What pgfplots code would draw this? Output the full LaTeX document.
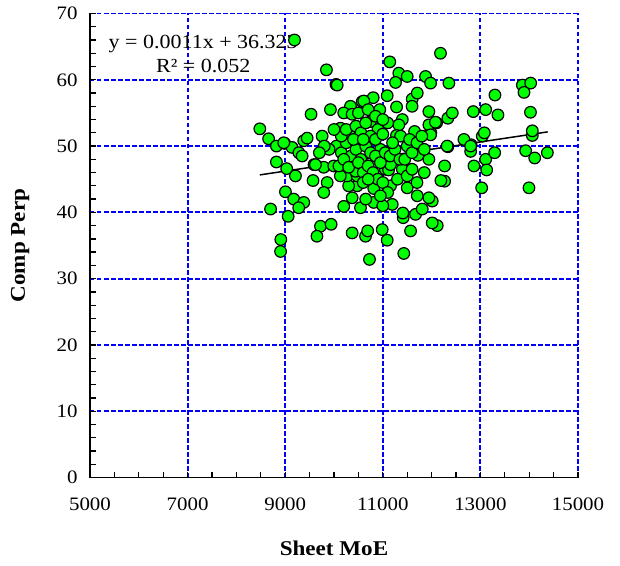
\documentclass[border=0pt]{standalone}
\usepackage{fontspec}
\setmainfont{Liberation Serif}[FakeStretch=1.1]
\usepackage{pgfplots}
\pgfplotsset{compat=1.18}

\definecolor{gridblue}{RGB}{0,0,255}
\definecolor{markgreen}{RGB}{0,255,0}

% Sheet MoE vs. Comp Perp measurements
\pgfplotstableread{
x y
8480 52.6
8660 51.1
8820 50.0
8990 50.4
9140 49.8
9280 49.0
9380 50.8
9450 51.2
9530 54.8
9190 66.0
9845 61.5
10040 59.3
9927 55.5
8820 47.6
9030 46.6
9210 45.5
9590 47.2
9790 46.8
9860 44.5
9790 43.0
9570 44.8
9005 43.1
9175 42.0
9380 41.5
9277 40.7
8700 40.5
9060 39.4
8910 35.9
8905 34.1
9723 37.9
9941 38.2
9650 36.4
10372 36.9
10646 36.4
10690 37.2
10727 32.9
10200 40.9
10543 40.7
10372 42.2
10815 41.5
10815 43.6
10474 44.0
10300 44.0
10269 45.5
10474 45.5
10130 45.5
10440 46.2
9995 47.0
9347 48.5
9620 47.2
9757 51.5
8970 50.5
10338 56.0
10200 55.0
10577 56.7
10132 52.7
10338 51.5
14026 55.1
14064 51.6
14064 52.3
13927 49.3
14113 48.2
14372 49.0
13995 43.7
13026 43.7
13108 48.0
13128 46.4
13292 49.0
12867 47.0
12800 49.2
12810 50.2
12662 51.0
13039 51.5
13080 52.0
12854 55.2
13108 55.5
13359 54.7
12333 49.9
12266 47.0
12266 44.7
12190 44.8
11985 52.0
11944 53.2
12102 53.5
12333 54.2
12424 55.0
11944 55.2
11651 52.2
11944 48.0
11720 48.6
12013 41.7
12115 38.0
12013 38.4
11569 37.2
11430 33.8
11090 35.8
10988 37.4
11671 39.7
11418 39.2
11410 39.9
11808 40.5
11944 42.2
11706 42.5
11500 43.7
11193 41.2
11000 41.0
11158 44.0
11050 46.5
11118 46.4
11400 46.5
11158 47.2
12182 64.0
11143 62.7
11328 61.0
11500 60.5
11261 59.6
11876 60.5
11979 59.5
12354 59.5
11603 57.1
11706 58.0
11600 56.0
11090 57.6
10803 57.3
10610 56.8
10938 55.5
11282 55.9
13298 57.7
13860 59.2
14030 59.5
13893 58.1
10065 59.2
10372 54.8
10748 53.7
11400 54.0
11328 53.2
11280 51.6
11364 51.5
10900 52.5
11979 51.7
12800 50.0
12318 50.0
10953 49.5
12079 53.6
10050 50.0
10150 49.0
10250 50.5
10350 48.5
10450 49.5
10550 48.0
10650 50.0
10750 49.0
10850 48.5
10950 47.5
11050 49.0
11150 48.5
11250 49.5
11350 48.0
10100 47.0
10200 48.0
10300 46.8
10500 47.5
10600 46.0
10700 47.0
10800 46.0
10900 45.0
11000 44.5
11100 43.0
10600 44.5
10700 45.0
10150 51.5
10250 52.5
10450 53.0
10550 52.0
10650 53.5
10750 51.5
10850 51.0
11000 51.8
11100 53.5
11200 50.5
10500 55.0
10700 55.5
10850 54.5
11000 54.0
10400 51.0
10600 51.0
9900 49.5
9800 50.0
9700 49.0
10000 52.5
10950 42.5
10650 42.0
11300 45.0
11450 48.0
11500 50.0
11600 49.0
11550 51.0
11700 50.5
11800 51.5
11850 49.5
11500 45.5
11600 46.5
11700 44.5
11850 46.0
}\moedata

% Linear trend: y = 0.0011x + 36.323
\pgfplotstableread{
x y
8480 45.651
14380 52.141
}\trenddata

\tikzset{gridline/.style={gridblue,line width=1.9pt,dash pattern=on 4.5pt off 2.5pt}}

\begin{document}
\begin{tikzpicture}
\useasboundingbox (-90pt,-87.5pt) rectangle (530pt,477.5pt);
\begin{axis}[
  scale only axis,
  width=488pt, height=464pt,
  xmin=5000, xmax=15000,
  ymin=0, ymax=70,
  xtick={5000,7000,...,15000},
  ytick={0,10,...,70},
  scaled x ticks=false,
  scaled y ticks=false,
  minor x tick num=3,
  minor y tick num=4,
  axis x line*=bottom,
  axis y line*=left,
  axis line style={line width=1.8pt,-},
  tick align=inside,
  major tick length=6pt,
  minor tick length=6pt,
  major tick style={draw=black,line width=1.3pt},
  minor tick style={draw=black,line width=1.3pt},
  axis on top,
  /pgf/number format/assume math mode=true,
  /pgf/number format/1000 sep={},
  ticklabel style={font=\fontsize{19}{22}\selectfont},
  xticklabel style={yshift=-17pt},
  yticklabel style={xshift=-9pt},
  xlabel={Sheet MoE},
  ylabel={Comp Perp},
  xlabel style={font=\fontsize{21}{24}\selectfont\bfseries,
    at={(axis description cs:0.5,-0.153)},anchor=center},
  ylabel style={font=\fontsize{21}{24}\selectfont\bfseries,
    at={(axis description cs:-0.143,0.5)},anchor=center},
  clip=false,
]
% dashed grid
\foreach \gx in {7000,9000,11000,13000,15000}
  {\edef\temp{\noexpand\draw[gridline] (axis cs:\gx,0) -- (axis cs:\gx,70);}\temp}
\foreach \gy in {10,20,...,70}
  {\edef\temp{\noexpand\draw[gridline] (axis cs:5000,\gy) -- (axis cs:15000,\gy);}\temp}
\addplot[only marks, mark=*, mark size=5.8pt,
  mark options={fill=markgreen,draw=black,line width=1.2pt}]
  table[x=x,y=y] {\moedata};
\addplot[black, line width=1.5pt] table[x=x,y=y] {\trenddata};
\node[align=center,font=\fontsize{20}{24}\selectfont]
  at (axis cs:7320,63.9) {y = 0.0011x + 36.323\\R² = 0.052};
\end{axis}
\end{tikzpicture}
\end{document}
